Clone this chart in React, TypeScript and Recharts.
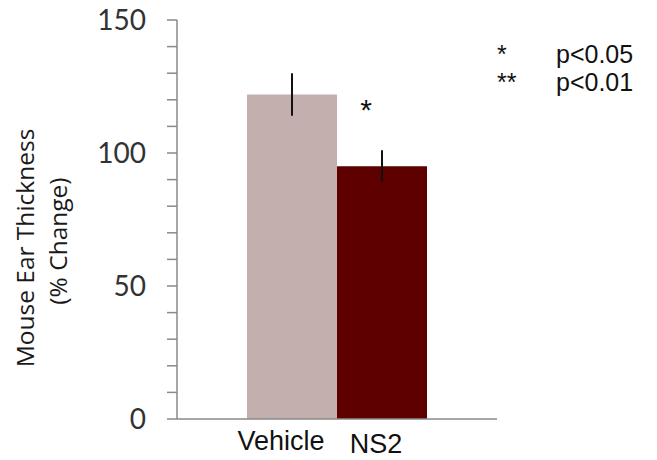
import React from "react";
import { BarChart, Bar, XAxis, YAxis, ErrorBar, LabelList } from "recharts";

const seriesNames = ["Vehicle", "NS2"];
const seriesMeans = [122, 95];
const seriesErrors = [8, 6];
const significance = ["", "*"];
const yTicks = [0, 10, 20, 30, 40, 50, 60, 70, 80, 90, 100, 110, 120, 130, 140, 150];
const yLabelEvery = 50;
const legendSymbols = ["*", "**"];
const legendTexts = ["p<0.05", "p<0.01"];
const yTitleLines = ["Mouse Ear Thickness", "(% Change)"];

const colors = ["#C4AFAF", "#5E0000"];

const data = [
  {
    group: "all",
    s0: seriesMeans[0],
    e0: seriesErrors[0],
    s1: seriesMeans[1],
    e1: seriesErrors[1],
    sig0: significance[0],
    sig1: significance[1],
  },
];

const W = 657;
const H = 460;

const YTick = (props: any) => {
  const { x, y, payload } = props;
  if (payload.value % yLabelEvery !== 0) return null;
  return (
    <text x={x} y={y} dy="0.36em" textAnchor="end" fontFamily="Lato" fontSize={28} fill="#333">
      {payload.value}
    </text>
  );
};

const YTitle = () => (
  <g>
    <text x={34} y={248} transform="rotate(-90, 34, 248)" textAnchor="middle" fontFamily="Open Sans" fontSize={24.5} fill="#1a1a1a">
      {yTitleLines[0]}
    </text>
    <text x={67} y={241} transform="rotate(-90, 67, 241)" textAnchor="middle" fontFamily="Open Sans" fontSize={24.5} fill="#1a1a1a">
      {yTitleLines[1]}
    </text>
  </g>
);

const makeNameLabel = (name: string, dx: number, dy: number) => (props: any) => {
  const vb = props.viewBox || props;
  const x = Number(vb.x ?? props.x);
  const y = Number(vb.y ?? props.y);
  const w = Number(vb.width ?? props.width);
  const h = Number(vb.height ?? props.height);
  return (
    <text x={x + w / 2 + dx} y={y + h + dy} textAnchor="middle" fontFamily="Liberation Sans" fontSize={27} fill="#111">
      {name}
    </text>
  );
};

const makeSigLabel = (dx: number, dy: number) => (props: any) => {
  const vb = props.viewBox || props;
  const x = Number(vb.x ?? props.x);
  const y = Number(vb.y ?? props.y);
  const w = Number(vb.width ?? props.width);
  if (!props.value) return null;
  return (
    <text x={x + w / 2 + dx} y={y + dy} textAnchor="middle" fontFamily="Liberation Sans" fontSize={30} fill="#111">
      {props.value}
    </text>
  );
};

export default function App() {
  return (
    <div style={{ position: "absolute", left: 0, top: 0, width: W, height: H, background: "#fff" }}>
      <BarChart
        width={W}
        height={H}
        data={data}
        margin={{ top: 20, right: 160, bottom: 0, left: 0 }}
        barCategoryGap={70}
        barGap={0}
      >
        <XAxis dataKey="group" tick={false} tickLine={false} axisLine={{ stroke: "#8a8a8a", strokeWidth: 1.5 }} height={41} />
        <YAxis
          type="number"
          domain={[0, 150]}
          ticks={yTicks}
          interval={0}
          width={177}
          tick={<YTick />}
          tickSize={10}
          tickMargin={21}
          tickLine={{ stroke: "#8a8a8a", strokeWidth: 1.5 }}
          axisLine={{ stroke: "#8a8a8a", strokeWidth: 1.5 }}
          label={<YTitle />}
        />
        <Bar dataKey="s0" fill={colors[0]} isAnimationActive={false}>
          <ErrorBar dataKey="e0" width={0} stroke="#111" strokeWidth={2} />
          <LabelList dataKey="s0" content={makeNameLabel(seriesNames[0], -11, 31)} />
        </Bar>
        <Bar dataKey="s1" fill={colors[1]} isAnimationActive={false}>
          <ErrorBar dataKey="e1" width={0} stroke="#111" strokeWidth={2} />
          <LabelList dataKey="s1" content={makeNameLabel(seriesNames[1], -6, 34)} />
          <LabelList dataKey="sig1" content={makeSigLabel(-16, -46)} />
        </Bar>
      </BarChart>
      <svg width={W} height={H} style={{ position: "absolute", left: 0, top: 0, pointerEvents: "none" }}>
        {legendSymbols.map((s, i) => (
          <g key={i}>
            <text x={497} y={63 + i * 28} fontFamily="Liberation Sans" fontSize={25} fill="#111">
              {s}
            </text>
            <text x={556} y={63 + i * 28} fontFamily="Liberation Sans" fontSize={25} fill="#111">
              {legendTexts[i]}
            </text>
          </g>
        ))}
      </svg>
    </div>
  );
}
